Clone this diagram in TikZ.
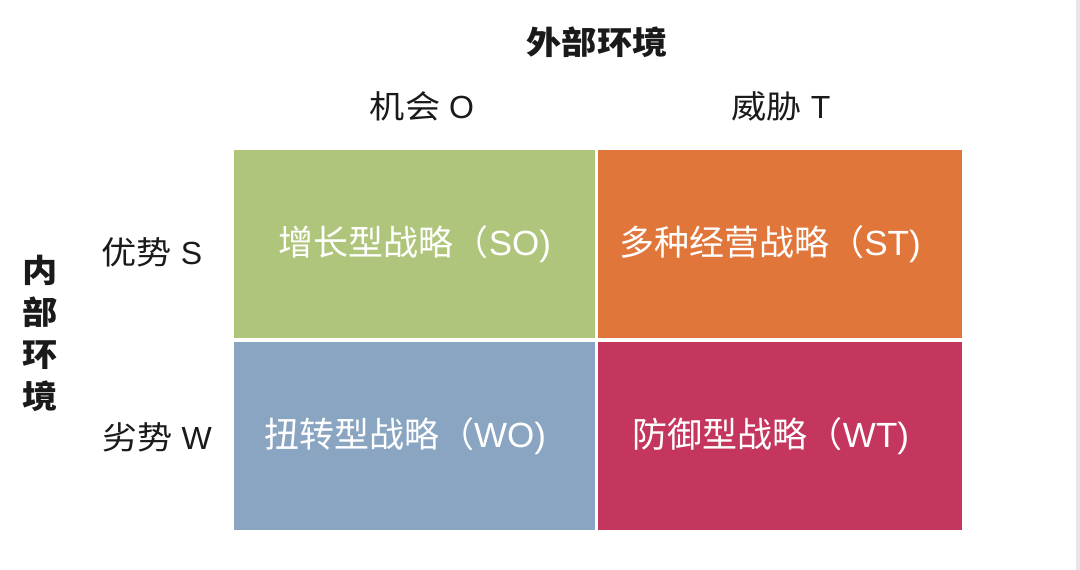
\documentclass[tikz,border=0pt]{standalone}
\usepackage{fontspec}
\setmainfont{Noto Sans CJK SC}
\newfontfamily\cjkwide[FakeStretch=1.1]{Noto Sans CJK SC}
\newfontfamily\lat{Liberation Sans}
\definecolor{cgreen}{HTML}{B0C57C}
\definecolor{corange}{HTML}{E1763A}
\definecolor{cblue}{HTML}{8AA5C2}
\definecolor{cred}{HTML}{C4365D}
\definecolor{ctext}{HTML}{1A1A1A}
\definecolor{cstrip}{HTML}{E6E6EA}
\tikzset{
  cell/.style={anchor=north west, inner sep=0pt, minimum width=#1, minimum height=188pt},
  celltext/.style={text=white, inner sep=0pt, font=\fontsize{35}{40}\selectfont},
  head/.style={text=ctext, font=\cjkwide\fontsize{32}{36}\selectfont, inner sep=0pt},
  title/.style={text=ctext, font=\cjkwide\fontsize{32}{36}\selectfont\bfseries, inner sep=0pt},
}
\begin{document}
\begin{tikzpicture}[x=1pt,y=-1pt]
\useasboundingbox (0,0) rectangle (1080,570);
\fill[white] (0,0) rectangle (1080,570);
\fill[cstrip] (1076,0) rectangle (1080,570);
\node[cell=361pt, fill=cgreen] (so) at (234,150) {};
\node[cell=364pt, fill=corange] (st) at (598,150) {};
\node[cell=361pt, fill=cblue] (wo) at (234,342) {};
\node[cell=364pt, fill=cred] (wt) at (598,342) {};
\node[celltext] (sot) at (415,244) {增长型战略（{\lat SO)}};
\node[celltext] (stt) at (770,244) {多种经营战略（{\lat ST)}};
\node[celltext] (wot) at (405,436) {扭转型战略（{\lat WO)}};
\node[celltext] (wtt) at (771,436) {防御型战略（{\lat WT)}};
\node[title] (ext) at (597,42) {外部环境};
\node[head] (opp) at (422,106) {机会{\lat\ O}};
\node[head] (thr) at (781,106) {威胁{\lat\ T}};
\node[head] (str) at (152,252) {优势{\lat\ S}};
\node[head] (weak) at (157,437) {劣势{\lat\ W}};
\node[title, align=center, font=\cjkwide\fontsize{32}{42}\selectfont\bfseries] (int) at (40,333) {内\\部\\环\\境};
\end{tikzpicture}
\end{document}
